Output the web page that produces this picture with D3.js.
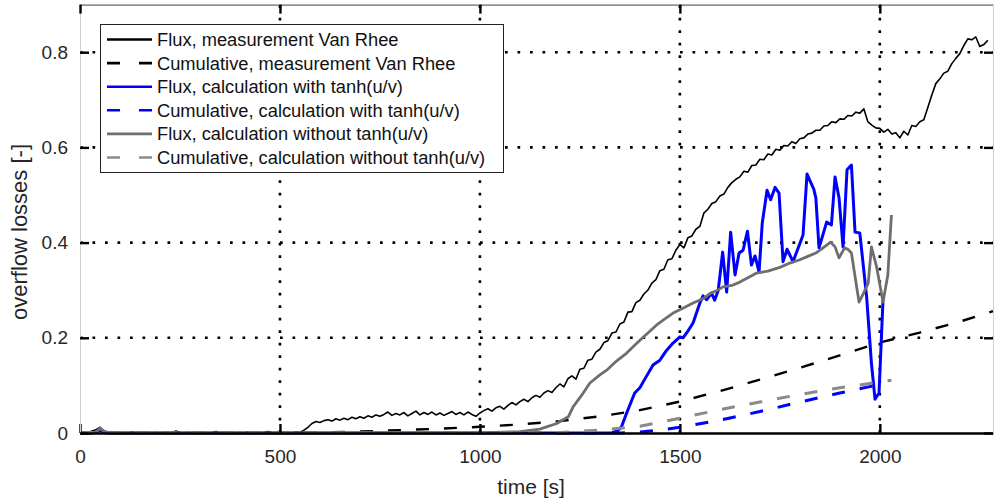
<!DOCTYPE html>
<html>
<head>
<meta charset="utf-8">
<script src="https://cdn.jsdelivr.net/npm/d3@7"></script>
<style>
  html, body { margin: 0; padding: 0; background: #fff; }
  svg { display: block; font-family: "Liberation Sans", Arial, Helvetica, sans-serif; }
</style>
</head>
<body>
<svg id="chart" width="998" height="499"></svg>
<script>
// Overflow losses over time: measured flux (Van Rhee) and two calculations,
// each with its cumulative curve. Each series is a list of [time s, value].

const fluxMeasured = [
  [0,0.001],[10,0.002],[20,0.001],[30,0.004],[40,0.007],[50,0.012],[60,0.004],[70,0.002],[80,0.001],[90,0.001],
  [100,0],[110,0.001],[120,0],[130,0.002],[140,0],[150,0.001],[160,0],[170,0.001],[180,0],[190,0.001],
  [200,0],[210,0.001],[220,0],[230,0.001],[240,0.004],[250,0.001],[260,0],[270,0.001],[280,0],[290,0.002],
  [300,0],[310,0.001],[320,0],[330,0.001],[340,0.003],[350,0],[360,0.001],[370,0],[380,0.001],[390,0],
  [400,0.001],[410,0],[420,0.002],[430,0],[440,0.001],[450,0],[460,0.001],[470,0.003],[480,0.001],[490,0],
  [500,0.001],[510,0],[520,0.001],[530,0],[540,0.002],[550,0.001],[560,0.006],[570,0.012],[580,0.02],[590,0.024],
  [600,0.022],[610,0.026],[620,0.028],[630,0.025],[640,0.03],[650,0.027],[660,0.031],[670,0.028],[680,0.033],[690,0.03],
  [700,0.034],[710,0.031],[720,0.036],[730,0.033],[740,0.038],[750,0.035],[760,0.039],[770,0.044],[780,0.037],[790,0.041],
  [800,0.038],[810,0.043],[820,0.036],[830,0.041],[840,0.046],[850,0.038],[860,0.043],[870,0.039],[880,0.044],[890,0.038],
  [900,0.042],[910,0.037],[920,0.041],[930,0.045],[940,0.039],[950,0.043],[960,0.038],[970,0.044],[980,0.039],[990,0.035],
  [1000,0.042],[1010,0.047],[1020,0.051],[1030,0.046],[1040,0.053],[1050,0.056],[1060,0.05],[1070,0.058],[1080,0.064],[1090,0.059],
  [1100,0.066],[1110,0.071],[1120,0.066],[1130,0.074],[1140,0.079],[1150,0.075],[1160,0.084],[1170,0.089],[1180,0.085],[1190,0.095],
  [1200,0.103],[1210,0.097],[1220,0.114],[1230,0.12],[1240,0.113],[1250,0.134],[1260,0.136],[1270,0.153],[1280,0.155],[1290,0.17],
  [1300,0.176],[1310,0.19],[1320,0.194],[1330,0.21],[1340,0.212],[1350,0.229],[1360,0.233],[1370,0.254],[1380,0.255],[1390,0.274],
  [1400,0.279],[1410,0.292],[1420,0.3],[1430,0.315],[1440,0.322],[1450,0.341],[1460,0.344],[1470,0.364],[1480,0.366],[1490,0.384],
  [1500,0.396],[1510,0.389],[1520,0.41],[1530,0.414],[1540,0.428],[1550,0.434],[1560,0.462],[1570,0.47],[1580,0.482],[1590,0.486],
  [1600,0.498],[1610,0.502],[1620,0.516],[1630,0.526],[1640,0.533],[1650,0.538],[1660,0.55],[1670,0.548],[1680,0.562],[1690,0.563],
  [1700,0.575],[1710,0.574],[1720,0.586],[1730,0.584],[1740,0.596],[1750,0.594],[1760,0.604],[1770,0.603],[1780,0.612],[1790,0.608],
  [1800,0.618],[1810,0.62],[1820,0.628],[1830,0.63],[1840,0.636],[1850,0.636],[1860,0.645],[1870,0.646],[1880,0.654],[1890,0.652],
  [1900,0.66],[1910,0.659],[1920,0.667],[1930,0.666],[1940,0.674],[1950,0.672],[1960,0.681],[1970,0.654],[1980,0.647],[1990,0.641],
  [2000,0.64],[2010,0.632],[2020,0.638],[2030,0.628],[2040,0.631],[2050,0.62],[2060,0.634],[2070,0.626],[2080,0.646],[2090,0.644],
  [2100,0.654],[2110,0.658],[2120,0.684],[2130,0.71],[2140,0.734],[2150,0.744],[2160,0.756],[2170,0.76],[2180,0.776],[2190,0.787],
  [2200,0.797],[2210,0.814],[2220,0.828],[2230,0.826],[2240,0.832],[2250,0.812],[2260,0.816],[2270,0.825]
];

const cumulativeMeasured = [
  [0,0],[560,0],[700,0.003],[800,0.006],[900,0.009],[1000,0.013],[1100,0.018],[1200,0.025],[1300,0.035],
  [1400,0.048],[1500,0.066],[1600,0.088],[1700,0.112],[1800,0.137],[1900,0.163],[2000,0.19],[2100,0.211],
  [2200,0.234],[2283,0.256]
];

const fluxWithTanh = [
  [0,0],[40,0.001],[50,0.006],[60,0.001],[70,0],[1330,0],[1345,0.005],[1354,0.013],[1367,0.042],[1387,0.084],
  [1400,0.095],[1417,0.12],[1433,0.143],[1450,0.153],[1467,0.174],[1483,0.189],[1500,0.202],[1508,0.2],[1520,0.214],
  [1533,0.231],[1550,0.273],[1558,0.288],[1567,0.28],[1579,0.294],[1587,0.279],[1596,0.3],[1607,0.38],[1617,0.296],
  [1627,0.422],[1638,0.332],[1648,0.378],[1658,0.384],[1669,0.424],[1679,0.353],[1688,0.372],[1698,0.338],[1706,0.441],
  [1718,0.51],[1727,0.49],[1738,0.516],[1748,0.504],[1758,0.36],[1768,0.386],[1783,0.36],[1808,0.416],[1818,0.544],
  [1835,0.512],[1840,0.494],[1848,0.389],[1867,0.443],[1879,0.437],[1888,0.538],[1898,0.494],[1908,0.391],[1918,0.553],
  [1929,0.563],[1938,0.422],[1950,0.42],[1967,0.286],[1979,0.147],[1988,0.071],[1998,0.084],[2008,0.28]
];

const cumulativeWithTanh = [
  [0,0],[1350,0],[1400,0.002],[1450,0.006],[1500,0.012],[1600,0.027],[1700,0.045],[1800,0.065],[1900,0.084],[1990,0.1]
];

const fluxWithoutTanh = [
  [0,0],[40,0.002],[50,0.01],[60,0.004],[70,0.001],[80,0],[1000,0],[1100,0.003],[1150,0.008],[1192,0.02],
  [1221,0.034],[1233,0.055],[1255,0.08],[1275,0.105],[1300,0.122],[1317,0.132],[1340,0.15],[1367,0.168],[1400,0.195],
  [1420,0.21],[1442,0.227],[1460,0.238],[1483,0.252],[1510,0.263],[1533,0.273],[1560,0.283],[1575,0.293],[1590,0.298],
  [1608,0.307],[1630,0.31],[1650,0.317],[1670,0.326],[1692,0.336],[1720,0.34],[1750,0.348],[1775,0.357],[1800,0.364],
  [1817,0.37],[1840,0.378],[1858,0.389],[1877,0.401],[1888,0.391],[1898,0.368],[1912,0.389],[1920,0.386],[1929,0.378],
  [1948,0.275],[1960,0.295],[1971,0.315],[1979,0.391],[1992,0.349],[2008,0.275],[2020,0.332],[2029,0.458]
];

const cumulativeWithoutTanh = [
  [0,0],[1150,0],[1200,0.001],[1300,0.006],[1400,0.014],[1500,0.031],[1600,0.049],[1700,0.065],[1800,0.081],
  [1900,0.095],[2000,0.107],[2029,0.111]
];

const xTicks = [0, 500, 1000, 1500, 2000];
const yTicks = [0, 0.2, 0.4, 0.6, 0.8];
const xDomain = [0, 2283];
const yDomain = [0, 0.9];

const legendLabels = [
  "Flux, measurement Van Rhee",
  "Cumulative, measurement Van Rhee",
  "Flux, calculation with tanh(u/v)",
  "Cumulative, calculation with tanh(u/v)",
  "Flux, calculation without tanh(u/v)",
  "Cumulative, calculation without tanh(u/v)"
];

// Styles for each series, in legend order
const seriesStyle = [
  { data: fluxMeasured,          color: "#000000", width: 1.6, dash: null,     legendWidth: 2.6 },
  { data: cumulativeMeasured,    color: "#000000", width: 2.4, dash: "13 15",  legendWidth: 2.6 },
  { data: fluxWithTanh,          color: "#0000ff", width: 3,   dash: null,     legendWidth: 2.6 },
  { data: cumulativeWithTanh,    color: "#0000ff", width: 3,   dash: "13 15",  legendWidth: 2.6 },
  { data: fluxWithoutTanh,       color: "#6e6e6e", width: 2.8, dash: null,     legendWidth: 2.6 },
  { data: cumulativeWithoutTanh, color: "#8a8a8a", width: 3,   dash: "13 15",  legendWidth: 2.6 }
];

const plot = { left: 80, right: 993, top: 4.6, bottom: 433 };

const svg = d3.select("#chart");
const x = d3.scaleLinear().domain(xDomain).range([plot.left, plot.right]);
const y = d3.scaleLinear().domain(yDomain).range([plot.bottom, plot.top]);

// Dotted grid
const grid = svg.append("g").attr("class", "grid")
  .attr("stroke", "#000").attr("stroke-width", 2.6).attr("stroke-dasharray", "2.7 9.8");
grid.selectAll("line.h").data(yTicks.filter(d => d > 0)).join("line")
  .attr("class", "h")
  .attr("x1", plot.left).attr("x2", plot.right)
  .attr("y1", d => y(d)).attr("y2", d => y(d));
grid.selectAll("line.v").data(xTicks.filter(d => d > 0)).join("line")
  .attr("class", "v")
  .attr("y1", plot.bottom).attr("y2", plot.top)
  .attr("x1", d => x(d)).attr("x2", d => x(d));

// Data lines
const line = d3.line().x(d => x(d[0])).y(d => y(d[1]));
const lines = svg.append("g").attr("class", "series").attr("fill", "none")
  .attr("stroke-linejoin", "round");
seriesStyle.forEach(s => {
  lines.append("path")
    .datum(s.data)
    .attr("d", line)
    .attr("stroke", s.color)
    .attr("stroke-width", s.width)
    .attr("stroke-dasharray", s.dash);
});

// Axes with inward ticks
const tickFmtX = d3.format("d");
const tickFmtY = d => d === 0 ? "0" : d3.format(".1f")(d);

const gx = svg.append("g").attr("transform", `translate(0,${plot.bottom})`)
  .call(d3.axisBottom(x).tickValues(xTicks).tickFormat(tickFmtX).tickSizeInner(-9).tickSizeOuter(0).tickPadding(16.5));
const gy = svg.append("g").attr("transform", `translate(${plot.left},0)`)
  .call(d3.axisLeft(y).tickValues(yTicks).tickFormat(tickFmtY).tickSizeInner(-9).tickSizeOuter(0).tickPadding(12));
const gt = svg.append("g").attr("transform", `translate(0,${plot.top})`)
  .call(d3.axisTop(x).tickValues(xTicks).tickFormat("").tickSizeInner(-9).tickSizeOuter(0));
const gr = svg.append("g").attr("transform", `translate(${plot.right},0)`)
  .call(d3.axisRight(y).tickValues(yTicks).tickFormat("").tickSizeInner(-9).tickSizeOuter(0));

[gx, gy, gt, gr].forEach(g => {
  g.selectAll(".tick line").attr("stroke", "#000").attr("stroke-width", 2.4);
  g.selectAll(".tick text").attr("fill", "#262626")
    .style("font-size", "19px").style("font-family", "'Liberation Sans', Arial, sans-serif");
});
gx.select(".domain").attr("stroke", "#000").attr("stroke-width", 2.6);
gy.select(".domain").attr("stroke", "#d0d0d0").attr("stroke-width", 1);
gt.select(".domain").attr("stroke", "#666").attr("stroke-width", 1.2);
gr.select(".domain").attr("stroke", "#d0d0d0").attr("stroke-width", 1);

// Axis titles
svg.append("text")
  .attr("x", 531).attr("y", 494)
  .attr("text-anchor", "middle")
  .attr("fill", "#262626")
  .style("font-size", "21px")
  .text("time [s]");
svg.append("text")
  .attr("transform", "translate(27,232) rotate(-90)")
  .attr("text-anchor", "middle")
  .attr("fill", "#262626")
  .style("font-size", "22px")
  .text("overflow losses [-]");

// Legend
const legend = svg.append("g").attr("class", "legend");
legend.append("rect")
  .attr("x", 100.5).attr("y", 24.5).attr("width", 403).attr("height", 148)
  .attr("fill", "#fff").attr("stroke", "#222").attr("stroke-width", 1);
const rowY = i => 39.5 + i * 23.6;
const rows = legend.selectAll("g.row").data(seriesStyle).join("g").attr("class", "row");
rows.append("line")
  .attr("x1", 107).attr("x2", 152)
  .attr("y1", (d, i) => rowY(i)).attr("y2", (d, i) => rowY(i))
  .attr("stroke", d => d.color)
  .attr("stroke-width", d => d.legendWidth)
  .attr("stroke-dasharray", d => d.dash ? "13 19" : null);
rows.append("text")
  .attr("x", 157).attr("y", (d, i) => rowY(i))
  .attr("dy", "0.35em")
  .attr("fill", "#111")
  .style("font-size", "18.3px")
  .text((d, i) => legendLabels[i]);
</script>
</body>
</html>
